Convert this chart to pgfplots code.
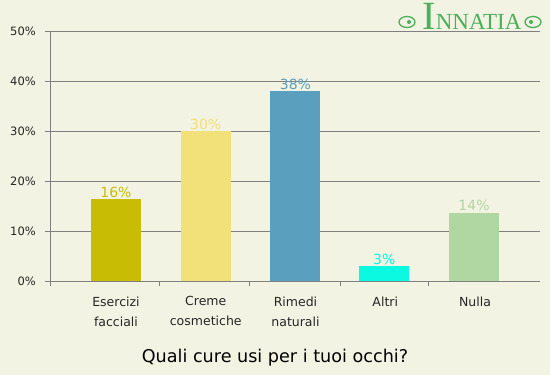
\documentclass[border=0pt]{standalone}
\usepackage{pgfplots}
\pgfplotsset{compat=1.18}
\usepackage{fontspec}
\setmainfont{DejaVu Sans}
\newfontfamily\logofont{Liberation Serif}
\definecolor{bg}{HTML}{F2F3E2}
\definecolor{gridgray}{HTML}{808080}
\definecolor{cA}{HTML}{C8BD04}
\definecolor{cB}{HTML}{F2E178}
\definecolor{cC}{HTML}{5B9FBF}
\definecolor{cD}{HTML}{0BF8E1}
\definecolor{cE}{HTML}{B0D6A2}
\definecolor{logogreen}{HTML}{4CAF5A}
\begin{document}
\begin{tikzpicture}[x=1pt,y=1pt]
\fill[bg] (0,0) rectangle (550,375);
% logo
\node[text=logogreen, font=\logofont, anchor=base, inner sep=0pt] at (472,345)
  {{\fontsize{40}{40}\selectfont I}{\fontsize{23}{23}\selectfont NNATIA}};
\draw[logogreen, line width=1.3pt] (407,353) ellipse (8pt and 5.5pt);
\draw[logogreen, line width=1.3pt] (533,353) ellipse (8pt and 5.5pt);
\fill[logogreen] (409,353) circle (2pt);
\fill[logogreen] (531,353) circle (2pt);
\begin{axis}[
  at={(50pt,93.5pt)}, anchor=south west,
  scale only axis, width=490pt, height=250pt,
  xmin=-0.735, xmax=4.724, ymin=0, ymax=50,
  axis x line*=bottom, axis y line*=left,
  axis line style={-, draw=gridgray, line width=1pt},
  /pgf/number format/assume math mode=true,
  ytick={0,10,20,30,40,50},
  yticklabel={\pgfmathprintnumber{\tick}\%},
  yticklabel style={anchor=east, inner sep=0pt, xshift=-9pt, font=\fontsize{11.5}{12}\selectfont, text=black!85},
  ymajorgrids, grid style={draw=gridgray, line width=1pt},
  tick align=outside, major tick length=5pt,
  tick style={draw=gridgray, line width=1pt},
  xtick={-0.735,0.490,1.493,2.496,3.487},
  xticklabels={},
  extra x ticks={0,1,2,3,4},
  extra x tick labels={Esercizi\\facciali,Creme\\cosmetiche,Rimedi\\naturali,Altri,Nulla},
  extra x tick style={major tick length=0pt, grid=none},
  xticklabel style={anchor=north, align=center, inner sep=0pt, yshift=-15pt, font=\fontsize{12.5}{20}\selectfont, text=black!85},
  every node near coord/.append style={font=\fontsize{14}{14}\selectfont, anchor=south, inner sep=2pt},
  nodes near coords={\pgfmathprintnumber[fixed,precision=0]{\pgfplotspointmeta}\%},
  clip=false,
]
\addplot[ybar, bar width=50pt, bar shift=0pt, fill=cA, draw=none, every node near coord/.append style={text=cA}] coordinates {(0,16.4)};
\addplot[ybar, bar width=50pt, bar shift=0pt, fill=cB, draw=none, every node near coord/.append style={text=cB}] coordinates {(1,30)};
\addplot[ybar, bar width=50pt, bar shift=0pt, fill=cC, draw=none, every node near coord/.append style={text=cC}] coordinates {(2,38)};
\addplot[ybar, bar width=50pt, bar shift=0pt, fill=cD, draw=none, every node near coord/.append style={text=cD}] coordinates {(2.989,3)};
\addplot[ybar, bar width=50pt, bar shift=0pt, fill=cE, draw=none, every node near coord/.append style={text=cE}] coordinates {(3.989,13.7)};
\end{axis}
\node[font=\fontsize{17.6}{18}\selectfont, text=black] at (275,17) {Quali cure usi per i tuoi occhi?};
\pgfresetboundingbox
\path (0,0) rectangle (550,375);
\end{tikzpicture}
\end{document}
